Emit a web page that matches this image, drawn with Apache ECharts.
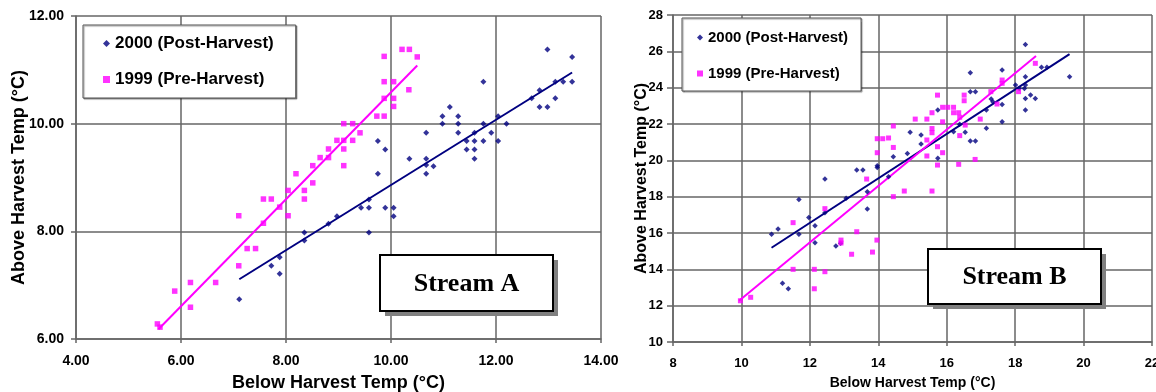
<!DOCTYPE html>
<html>
<head>
<meta charset="utf-8">
<script src="https://cdn.jsdelivr.net/npm/echarts@6/dist/echarts.min.js"></script>
<style>
html,body{margin:0;padding:0;background:#fff;}
#c{width:1156px;height:392px;}
</style>
</head>
<body>
<div id="c"></div>
<script>
// ---------- DATA ----------
const seriesNames = ['2000 (Post-Harvest)', '1999 (Pre-Harvest)'];
const xNameA = 'Below Harvest Temp (°C)';
const yNameA = 'Above Harvest Temp (°C)';
const xNameB = 'Below Harvest Temp (°C)';
const yNameB = 'Above Harvest Temp (°C)';
const panelLabels = ['Stream A', 'Stream B'];

// Stream A: [below, above]
const streamA2000 = [
  [7.11,6.74],[7.72,7.36],[7.88,7.52],[7.88,7.21],[8.35,7.98],[8.35,7.83],[8.81,8.14],
  [8.97,8.28],[9.43,8.44],[9.58,8.44],[9.58,8.59],[9.58,7.98],[9.75,9.68],[9.75,9.07],
  [9.89,9.52],[9.89,8.44],[10.05,8.44],[10.05,8.28],[10.35,9.35],[10.67,9.83],[10.67,9.35],
  [10.67,9.23],[10.67,9.07],[10.81,9.21],[10.98,10.14],[10.98,10.0],[11.12,10.31],[11.28,10.14],
  [11.28,10.0],[11.28,9.83],[11.44,9.68],[11.44,9.52],[11.59,9.83],[11.59,9.68],[11.59,9.52],
  [11.59,9.35],[11.76,10.78],[11.76,10.0],[11.76,9.68],[11.91,9.83],[12.04,10.14],[12.04,9.68],
  [12.20,10.0],[12.68,10.47],[12.83,10.62],[12.83,10.31],[12.98,11.38],[12.98,10.31],[13.13,10.78],
  [13.13,10.47],[13.28,10.78],[13.45,11.24],[13.45,10.78]
];
const streamA1999 = [
  [5.55,6.28],[5.60,6.22],[5.88,6.89],[6.18,7.05],[6.18,6.59],[6.66,7.05],[7.10,7.36],
  [7.10,8.29],[7.26,7.68],[7.42,7.68],[7.57,8.15],[7.57,8.60],[7.72,8.60],[7.88,8.45],
  [8.04,8.29],[8.04,8.76],[8.19,9.07],[8.35,8.76],[8.35,8.60],[8.51,8.90],[8.51,9.22],
  [8.65,9.37],[8.81,9.37],[8.81,9.53],[8.97,9.69],[9.10,9.22],[9.10,9.53],[9.10,9.69],
  [9.10,10.0],[9.27,9.69],[9.27,10.0],[9.41,9.83],[9.73,10.14],[9.87,10.14],[9.87,10.47],
  [9.87,10.78],[9.87,11.25],[10.05,10.32],[10.05,10.47],[10.05,10.78],[10.21,11.38],[10.34,10.63],
  [10.35,11.38],[10.50,11.24]
];
const trendA2000 = [[7.11,7.11],[13.45,10.95]];
const trendA1999 = [[5.57,6.18],[10.50,11.08]];

// Stream B: [below, above]
const streamB2000 = [
  [10.88,15.93],[11.07,16.22],[11.20,13.23],[11.37,12.93],[11.68,17.85],[11.68,15.93],[11.97,16.86],
  [12.15,16.40],[12.15,15.47],[12.44,18.97],[12.44,17.12],[12.76,15.28],[12.90,15.43],[13.06,17.91],
  [13.37,19.47],[13.55,19.47],[13.68,18.27],[13.68,17.32],[13.97,19.70],[13.97,19.60],[14.30,19.10],
  [14.44,20.20],[14.85,20.38],[14.93,21.54],[15.25,21.39],[15.25,20.90],[15.74,22.77],[15.74,20.11],
  [16.20,21.58],[16.38,21.98],[16.54,21.54],[16.69,24.82],[16.69,23.78],[16.69,21.06],[16.84,23.78],
  [16.84,21.06],[17.16,22.77],[17.16,21.76],[17.30,23.37],[17.35,23.22],[17.62,24.97],[17.62,23.08],
  [17.62,22.12],[18.01,24.14],[18.12,23.96],[18.27,23.96],[18.30,26.38],[18.30,24.60],[18.30,24.14],
  [18.30,23.41],[18.30,22.77],[18.45,23.59],[18.59,23.41],[18.77,25.12],[18.93,25.12],[19.59,24.60]
];
const streamB1999 = [
  [9.97,12.27],[10.27,12.46],[11.51,16.57],[11.51,14.0],[12.13,14.0],[12.13,12.93],[12.44,13.87],
  [12.44,17.34],[12.91,15.61],[12.91,15.45],[13.22,14.83],[13.37,16.07],[13.66,18.97],[13.83,14.95],
  [13.96,15.61],[13.97,20.42],[13.97,21.19],[14.13,21.19],[14.30,21.23],[14.44,21.89],[14.44,20.71],
  [14.44,18.0],[14.76,18.31],[15.08,22.27],[15.42,22.27],[15.42,21.12],[15.42,20.24],[15.57,22.62],
  [15.57,21.75],[15.57,21.52],[15.57,18.31],[15.73,23.59],[15.73,20.75],[15.73,19.74],[15.88,22.92],
  [15.88,22.12],[15.88,20.42],[16.03,22.92],[16.20,22.92],[16.20,22.62],[16.35,22.62],[16.35,19.78],
  [16.38,22.37],[16.38,21.36],[16.51,23.59],[16.51,23.28],[16.54,21.94],[16.83,20.05],[16.98,22.27],
  [17.29,23.78],[17.47,23.10],[17.62,24.42],[17.62,24.24],[18.10,23.78],[18.59,25.34]
];
const trendB2000 = [[10.88,15.19],[19.59,25.85]];
const trendB1999 = [[9.93,12.27],[18.61,25.74]];

// ---------- STYLE ----------
const NAVY = '#000080';
const MAGENTA = '#ff00ff';
const SANS = '"Liberation Sans", Arial, sans-serif';
const GRIDC = '#666666';

function axis(gridIndex, min, max, interval, name, nameGap, nameSize, labelSize, margin, fmt, tickLen) {
  return {
    gridIndex, type: 'value', min, max, interval,
    name, nameLocation: 'middle', nameGap, nameMoveOverlap: false,
    nameTextStyle: {fontSize: nameSize, fontWeight: 'bold', color: '#000', fontFamily: SANS},
    axisLine: {show: true, onZero: false, lineStyle: {color: GRIDC, width: 1.5}},
    axisTick: {show: true, inside: false, length: tickLen, lineStyle: {color: GRIDC, width: 1.5}},
    axisLabel: {formatter: fmt, fontSize: labelSize, fontWeight: 'bold', color: '#000', fontFamily: SANS, margin},
    splitLine: {show: true, lineStyle: {color: GRIDC, width: 1.5}}
  };
}
const fmt2 = v => v.toFixed(2);
const fmt0 = v => String(v);

const chart = echarts.init(document.getElementById('c'), null, {renderer: 'canvas'});
const option = {
  animation: false,
  backgroundColor: '#fff',
  grid: [
    {left: 76, top: 16, width: 525, height: 323, containLabel: false, outerBoundsMode: 'none'},
    {left: 673, top: 15, width: 479, height: 327, containLabel: false, outerBoundsMode: 'none'}
  ],
  xAxis: [
    axis(0, 4, 14, 2, xNameA, 35, 18, 14, 15, fmt2, 4),
    axis(1, 8, 22, 2, xNameB, 34, 14, 13, 15, fmt0, 4)
  ],
  yAxis: [
    axis(0, 6, 12, 2, yNameA, 48, 18, 14, 12, fmt2, 5),
    axis(1, 10, 28, 2, yNameB, 23, 16, 13, 10, fmt0, 6)
  ],
  legend: [
    {
      left: 83, top: 25, orient: 'vertical', selectedMode: false,
      padding: [10, 22, 10, 20], itemGap: 19, itemWidth: 7, itemHeight: 7,
      backgroundColor: '#fff', borderColor: '#555', borderWidth: 1,
      shadowColor: 'rgba(0,0,0,0.4)', shadowOffsetX: 1, shadowOffsetY: 1, shadowBlur: 1,
      textStyle: {fontSize: 17, fontWeight: 'bold', color: '#000', fontFamily: SANS},
      data: [{name: seriesNames[0], icon: 'diamond'}, {name: seriesNames[1], icon: 'rect'}]
    },
    {
      left: 682, top: 18, orient: 'vertical', selectedMode: false,
      padding: [12, 13, 10, 15], itemGap: 21, itemWidth: 6, itemHeight: 6,
      backgroundColor: '#fff', borderColor: '#555', borderWidth: 1,
      shadowColor: 'rgba(0,0,0,0.4)', shadowOffsetX: 1, shadowOffsetY: 1, shadowBlur: 1,
      textStyle: {fontSize: 15, fontWeight: 'bold', color: '#000', fontFamily: SANS},
      data: [{name: seriesNames[0], icon: 'diamond'}, {name: seriesNames[1], icon: 'rect'}]
    }
  ],
  series: [
    {name: seriesNames[0], type: 'scatter', xAxisIndex: 0, yAxisIndex: 0, data: streamA2000,
     symbol: 'diamond', symbolSize: 6, itemStyle: {color: NAVY}, z: 3},
    {name: seriesNames[1], type: 'scatter', xAxisIndex: 0, yAxisIndex: 0, data: streamA1999,
     symbol: 'rect', symbolSize: 5.5, itemStyle: {color: MAGENTA}, z: 3},
    {name: 'trendA2000', type: 'line', xAxisIndex: 0, yAxisIndex: 0, data: trendA2000,
     showSymbol: false, symbol: 'none', lineStyle: {color: NAVY, width: 2}, z: 2},
    {name: 'trendA1999', type: 'line', xAxisIndex: 0, yAxisIndex: 0, data: trendA1999,
     showSymbol: false, symbol: 'none', lineStyle: {color: MAGENTA, width: 2}, z: 2},
    {name: seriesNames[0], type: 'scatter', xAxisIndex: 1, yAxisIndex: 1, data: streamB2000,
     symbol: 'diamond', symbolSize: 5.5, itemStyle: {color: NAVY}, z: 3},
    {name: seriesNames[1], type: 'scatter', xAxisIndex: 1, yAxisIndex: 1, data: streamB1999,
     symbol: 'rect', symbolSize: 5, itemStyle: {color: MAGENTA}, z: 3},
    {name: 'trendB2000', type: 'line', xAxisIndex: 1, yAxisIndex: 1, data: trendB2000,
     showSymbol: false, symbol: 'none', lineStyle: {color: NAVY, width: 2}, z: 2},
    {name: 'trendB1999', type: 'line', xAxisIndex: 1, yAxisIndex: 1, data: trendB1999,
     showSymbol: false, symbol: 'none', lineStyle: {color: MAGENTA, width: 2}, z: 2}
  ],
  graphic: [
    {type: 'rect', z: 100, shape: {x: 385, y: 260, width: 173, height: 56}, style: {fill: '#808080'}},
    {type: 'rect', z: 101, shape: {x: 380, y: 255, width: 173, height: 56}, style: {fill: '#fff', stroke: '#000', lineWidth: 2}},
    {type: 'text', z: 102, x: 466.5, y: 284, style: {text: panelLabels[0], font: 'bold 26px "Liberation Serif", "Times New Roman", serif', fill: '#000', align: 'center', verticalAlign: 'middle'}},
    {type: 'rect', z: 100, shape: {x: 933, y: 254, width: 173, height: 55}, style: {fill: '#808080'}},
    {type: 'rect', z: 101, shape: {x: 928, y: 249, width: 173, height: 55}, style: {fill: '#fff', stroke: '#000', lineWidth: 2}},
    {type: 'text', z: 102, x: 1014.5, y: 277, style: {text: panelLabels[1], font: 'bold 26px "Liberation Serif", "Times New Roman", serif', fill: '#000', align: 'center', verticalAlign: 'middle'}}
  ]
};
chart.setOption(option);
</script>
</body>
</html>
